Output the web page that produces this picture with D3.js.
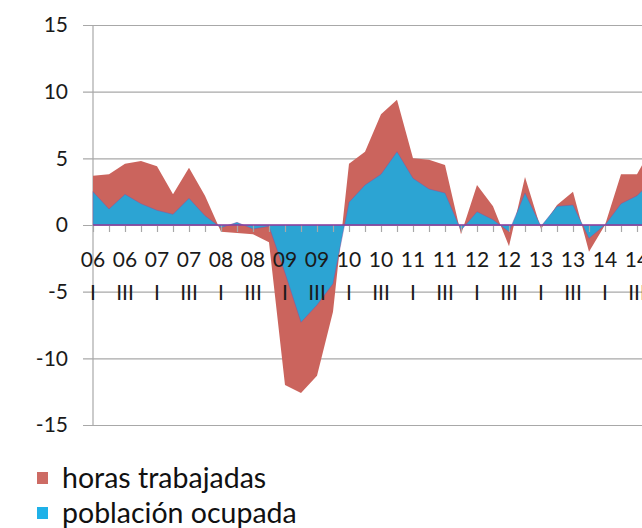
<!DOCTYPE html>
<html>
<head>
<meta charset="utf-8">
<script src="https://cdn.jsdelivr.net/npm/d3@7"></script>
<style>
  html, body { margin: 0; padding: 0; background: #fff; }
  svg { display: block; font-family: Lato, "Open Sans", sans-serif; }
</style>
</head>
<body>
<svg id="chart" width="642" height="528"></svg>
<script>
// quarters 2006 I .. 2014 IV
var quarters = ["06 I","06 II","06 III","06 IV","07 I","07 II","07 III","07 IV",
  "08 I","08 II","08 III","08 IV","09 I","09 II","09 III","09 IV",
  "10 I","10 II","10 III","10 IV","11 I","11 II","11 III","11 IV",
  "12 I","12 II","12 III","12 IV","13 I","13 II","13 III","13 IV",
  "14 I","14 II","14 III","14 IV"];

var horasTrabajadas = [3.7, 3.8, 4.6, 4.8, 4.4, 2.3, 4.3, 2.2,
  -0.5, -0.6, -0.7, -1.3, -12.0, -12.6, -11.3, -6.5,
  4.6, 5.5, 8.3, 9.4, 5.0, 4.9, 4.5, -0.7,
  3.0, 1.4, -1.6, 3.6, -0.3, 1.5, 2.5, -2.0,
  0.0, 3.8, 3.8, 6.0];

var poblacionOcupada = [2.5, 1.2, 2.3, 1.6, 1.1, 0.8, 2.0, 0.7,
  -0.2, 0.2, -0.3, -0.1, -3.6, -7.3, -6.0, -4.4,
  1.7, 3.0, 3.8, 5.5, 3.5, 2.7, 2.4, -0.4,
  1.0, 0.4, -0.5, 2.4, -0.1, 1.4, 1.5, -1.0,
  0.0, 1.6, 2.2, 3.4];

var yTicks = [-15, -10, -5, 0, 5, 10, 15];
var legendLabels = ["horas trabajadas", "población ocupada"];

var W = 642;
var svg = d3.select("#chart");

var x = d3.scalePoint()
  .domain(quarters)
  .range([93, 93 + 16 * (quarters.length - 1)]);

var y = d3.scaleLinear()
  .domain([-15, 15])
  .range([425, 25]);

// horizontal gridlines + y labels (plain hyphen minus, as in the original)
var yAxis = svg.append("g")
  .attr("transform", "translate(83,0)")
  .call(d3.axisLeft(y)
    .tickValues(yTicks)
    .tickSize(-(W - 83))
    .tickPadding(15)
    .tickFormat(function(d) { return String(d); }));
yAxis.select(".domain").remove();
yAxis.selectAll("line").attr("stroke", "#a8a8a8").attr("stroke-width", 1.2);
yAxis.selectAll("text")
  .attr("fill", "#1a1a1a")
  .style("font-size", "21px")
  .style("font-family", "Lato, sans-serif");

// vertical axis line
svg.append("line")
  .attr("x1", 93).attr("x2", 93)
  .attr("y1", y(15)).attr("y2", y(-15))
  .attr("stroke", "#a8a8a8")
  .attr("stroke-width", 1.2);

function areaFor(values) {
  return d3.area()
    .x(function(d, i) { return x(quarters[i]); })
    .y0(y(0))
    .y1(function(d) { return y(d); })(values);
}

svg.append("path")
  .attr("d", areaFor(horasTrabajadas))
  .attr("fill", "#cb645d");

svg.append("path")
  .attr("d", areaFor(poblacionOcupada))
  .attr("fill", "#2ca4d3")
  .attr("stroke", "#8b4a9e")
  .attr("stroke-opacity", 0.55)
  .attr("stroke-width", 0.8);

// category ticks along zero
var xAxis = svg.append("g")
  .attr("transform", "translate(0," + y(0) + ")")
  .call(d3.axisBottom(x).tickSize(7).tickFormat(""));
xAxis.select(".domain").remove();
xAxis.selectAll("line").attr("stroke", "#a8a8a8").attr("stroke-width", 1.2);

svg.append("line")
  .attr("x1", 93).attr("x2", W)
  .attr("y1", y(0)).attr("y2", y(0))
  .attr("stroke", "#8b3f9e")
  .attr("stroke-width", 1.6);

// two-row category labels, every second quarter
var labelled = quarters.filter(function(q, i) { return i % 2 === 0; });
var labels = svg.append("g").attr("fill", "#1a1a1a")
  .style("font-size", "21px");

labels.selectAll(".yr")
  .data(labelled)
  .enter().append("text")
  .attr("class", "yr")
  .attr("x", function(q) { return x(q); })
  .attr("y", 267)
  .attr("text-anchor", "middle")
  .text(function(q) { return q.split(" ")[0]; });

labels.selectAll(".qt")
  .data(labelled)
  .enter().append("text")
  .attr("class", "qt")
  .attr("x", function(q) { return x(q); })
  .attr("y", 300)
  .attr("text-anchor", "middle")
  .text(function(q) { return q.split(" ")[1]; });

// legend
var legendColors = ["#cd6b64", "#1fb1e8"];
var legend = svg.append("g")
  .selectAll("g")
  .data(legendLabels)
  .enter().append("g")
  .attr("transform", function(d, i) { return "translate(0," + (i * 35) + ")"; });

legend.append("rect")
  .attr("x", 37).attr("y", 472)
  .attr("width", 11).attr("height", 12)
  .attr("fill", function(d, i) { return legendColors[i]; });

legend.append("text")
  .attr("x", 62).attr("y", 488)
  .attr("fill", "#111")
  .style("font-size", "28.5px")
  .text(function(d) { return d; });
</script>
</body>
</html>
